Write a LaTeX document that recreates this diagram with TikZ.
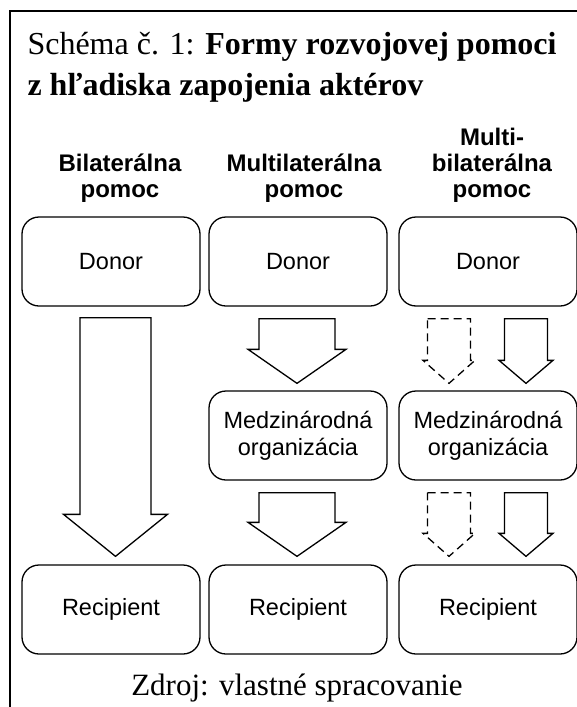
\documentclass[tikz,border=0pt]{standalone}
\usepackage{fontspec}
\setmainfont{Liberation Serif}
\setsansfont{Liberation Sans}
\usetikzlibrary{calc}

\newcommand{\blockarrow}[6][]{%
  \draw[blockline,#1] ($(#2)+(-#4,0)$) -- ($(#2)+(#4,0)$) -- ($(#3)+(#4,-#6)$) -- ($(#3)+(#5,-#6)$)
    -- (#3) -- ($(#3)+(-#5,-#6)$) -- ($(#3)+(-#4,-#6)$) -- cycle;}

\begin{document}
\begin{tikzpicture}[x=1pt,y=-1pt,
    box/.style={draw,line width=1.3pt,rounded corners=17pt,minimum width=178pt,minimum height=89pt,
      inner sep=0pt,align=center,font=\sffamily\fontsize{23.5}{27}\selectfont},
    colhead/.style={anchor=base,align=center,font=\sffamily\bfseries\fontsize{24}{26}\selectfont},
    blockline/.style={line width=1.3pt,line join=miter},
    dashline/.style={dash pattern=on 8pt off 5pt}]
    \useasboundingbox (0,0) rectangle (577,707);
    \draw[line width=2pt] (10,707) -- (10,11) -- (577,11);
    \node[anchor=base west,align=left,font=\fontsize{32}{41}\selectfont] (title) at (24,95.5)
      {Schéma č. 1: \textbf{Formy rozvojovej pomoci}\\\textbf{z hľadiska zapojenia aktérov}};
    \node[colhead] (h1) at (120,197) {Bilaterálna\\pomoc};
    \node[colhead] (h2) at (304,197) {Multilaterálna\\pomoc};
    \node[colhead] (h3) at (492,197) {Multi-\\bilaterálna\\pomoc};
    \node[box] (don1) at (111,261.5) {Donor};
    \node[box] (don2) at (298,261.5) {Donor};
    \node[box] (don3) at (488,261.5) {Donor};
    \node[box] (org2) at (298,435.5) {Medzinárodná\\organizácia};
    \node[box] (org3) at (488,435.5) {Medzinárodná\\organizácia};
    \node[box] (rec1) at (111,609.5) {Recipient};
    \node[box] (rec2) at (298,609.5) {Recipient};
    \node[box] (rec3) at (488,609.5) {Recipient};
    \node[anchor=base,font=\fontsize{31}{36}\selectfont] (src) at (297,695) {Zdroj: vlastné spracovanie};
    \coordinate (a1t) at ($(don1.south)+(4.5,11)$);
    \coordinate (a1b) at ($(rec1.north)+(4.5,-8)$);
    \coordinate (a2t) at ($(don2.south)+(-1,12)$);
    \coordinate (a2b) at ($(org2.north)+(-1,-7)$);
    \coordinate (a3t) at ($(org2.south)+(-1,12)$);
    \coordinate (a3b) at ($(rec2.north)+(-1,-8)$);
    \coordinate (d1t) at ($(don3.south)+(-39,12)$);
    \coordinate (d1b) at ($(org3.north)+(-39,-7)$);
    \coordinate (d2t) at ($(org3.south)+(-39,12)$);
    \coordinate (d2b) at ($(rec3.north)+(-39,-8)$);
    \coordinate (s1t) at ($(don3.south)+(38,12)$);
    \coordinate (s1b) at ($(org3.north)+(38,-7)$);
    \coordinate (s2t) at ($(org3.south)+(38,12)$);
    \coordinate (s2b) at ($(rec3.north)+(38,-8)$);
    \blockarrow{a1t}{a1b}{35.5}{52}{42}
    \blockarrow{a2t}{a2b}{38}{49}{34}
    \blockarrow{a3t}{a3b}{38}{49}{34}
    \blockarrow[dashline]{d1t}{d1b}{21.5}{26}{23}
    \blockarrow[dashline]{d2t}{d2b}{21.5}{26}{23}
    \blockarrow{s1t}{s1b}{21.5}{27}{23}
    \blockarrow{s2t}{s2b}{21.5}{27}{23}
  \end{tikzpicture}
\end{document}
